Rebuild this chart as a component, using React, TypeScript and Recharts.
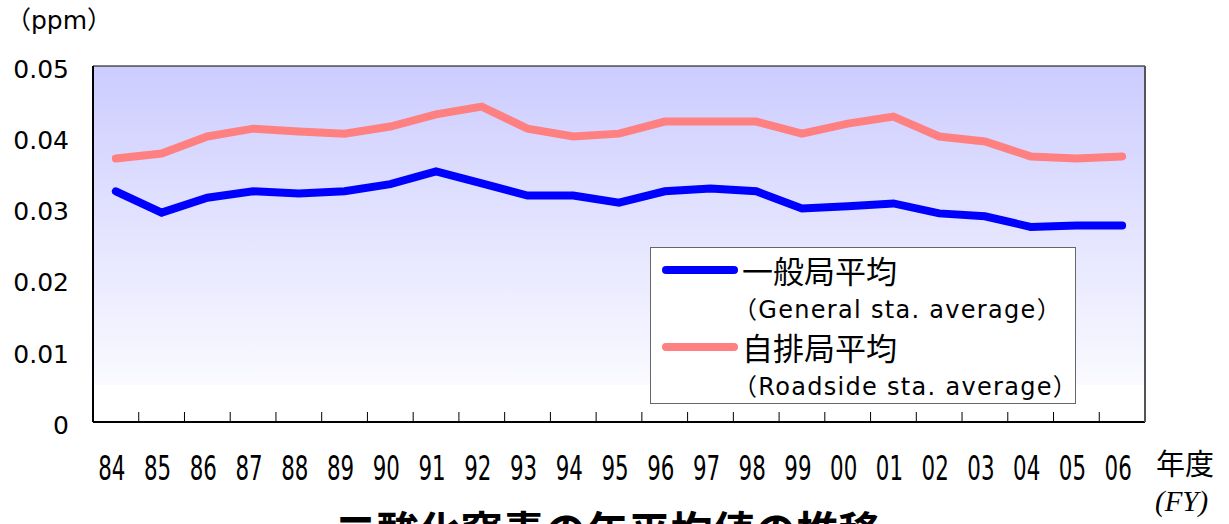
import { LineChart, Line, XAxis, YAxis, CartesianGrid } from 'recharts';

const years = ['84', '85', '86', '87', '88', '89', '90', '91', '92', '93', '94', '95', '96', '97', '98', '99', '00', '01', '02', '03', '04', '05', '06'];
const general = [0.0324, 0.0294, 0.0315, 0.0324, 0.0321, 0.0324, 0.0334, 0.0352, 0.0335, 0.0318, 0.0318, 0.0308, 0.0324, 0.0328, 0.0324, 0.03, 0.0303, 0.0307, 0.0293, 0.0289, 0.0274, 0.0276, 0.0276];
const roadside = [0.037, 0.0377, 0.0401, 0.0412, 0.0408, 0.0405, 0.0415, 0.0432, 0.0443, 0.0412, 0.0401, 0.0405, 0.0422, 0.0422, 0.0422, 0.0405, 0.0419, 0.0429, 0.0401, 0.0394, 0.0373, 0.037, 0.0373];
const yTicks = [0, 0.01, 0.02, 0.03, 0.04, 0.05];

const seriesKeys = ['general', 'roadside'];
const seriesNames = ['一般局平均', '自排局平均'];
const seriesSubs = ['（General sta. average）', '（Roadside sta. average）'];
const seriesColors = ['#0000ff', '#ff8080'];

const data = years.map((year, i) => ({ year, general: general[i], roadside: roadside[i] }));

const W = 1229;
const H = 524;
const PLOT_LEFT = 93;
const PLOT_RIGHT = 1145;
const PLOT_TOP = 66;
const PLOT_BOTTOM = 422;
const BAND = (PLOT_RIGHT - PLOT_LEFT) / years.length;

const JP = '"Noto Sans CJK JP", "Noto Sans", sans-serif';
const LATIN = '"DejaVu Sans", "Noto Sans CJK JP", sans-serif';

const XTick = ({ x, payload }: any) => {
    const idx = years.indexOf(payload.value);
    return (
        <g>
            {idx < years.length - 1 && (
                <line x1={x + BAND / 2} x2={x + BAND / 2} y1={PLOT_BOTTOM - 10} y2={PLOT_BOTTOM} stroke="#000" strokeWidth={1} />
            )}
            <text
                transform={`translate(${x - 4},${PLOT_BOTTOM + 58}) scale(0.72,1)`}
                x={0}
                y={0}
                textAnchor="middle"
                fontSize={33}
                fontFamily='"DejaVu Sans Condensed", "DejaVu Sans", sans-serif'
                fill="#000"
            >
                {payload.value}
            </text>
        </g>
    );
};

export default function App() {
    return (
        <div style={{ position: 'absolute', left: 0, top: 0, width: W, height: H, overflow: 'hidden', background: '#fff', fontFamily: JP }}>
            <LineChart width={W} height={H} data={data} margin={{ top: PLOT_TOP, right: 0, bottom: 0, left: 0 }}>
                <defs>
                    <linearGradient id="bg" x1="0" y1="0" x2="0" y2="1">
                        <stop offset="0" stopColor="#ccccff" />
                        <stop offset="0.896" stopColor="#fafaff" />
                        <stop offset="0.896" stopColor="#ffffff" />
                        <stop offset="1" stopColor="#ffffff" />
                    </linearGradient>
                </defs>
                <CartesianGrid vertical={false} stroke="#000" strokeWidth={1} fill="url(#bg)" fillOpacity={1} />
                <XAxis
                    dataKey="year"
                    scale="band"
                    interval={0}
                    height={H - PLOT_BOTTOM}
                    tickLine={false}
                    tickSize={0}
                    axisLine={{ stroke: '#000', strokeWidth: 2 }}
                    tick={<XTick />}
                />
                <YAxis
                    yAxisId="left"
                    width={PLOT_LEFT}
                    domain={[0, 0.05]}
                    ticks={yTicks}
                    tickLine={false}
                    tickSize={0}
                    tickMargin={24}
                    axisLine={{ stroke: '#000', strokeWidth: 2 }}
                    tickFormatter={(v: number) => (v === 0 ? '0' : v.toFixed(2))}
                    tick={{ fontSize: 25, fill: '#000', fontFamily: LATIN, dy: 3 }}
                />
                <YAxis
                    yAxisId="right"
                    orientation="right"
                    width={W - PLOT_RIGHT}
                    domain={[0, 0.05]}
                    tick={false}
                    tickLine={false}
                    axisLine={{ stroke: '#555', strokeWidth: 2 }}
                />
                {seriesKeys.map((k, i) => (
                    <Line
                        key={k}
                        yAxisId="left"
                        type="linear"
                        dataKey={k}
                        stroke={seriesColors[i]}
                        strokeWidth={8}
                        strokeLinecap="round"
                        dot={false}
                        activeDot={false}
                        isAnimationActive={false}
                    />
                ))}
            </LineChart>

            <div style={{ position: 'absolute', left: 6, top: 4, fontSize: 25, lineHeight: '34px', color: '#000', fontFamily: LATIN }}>（ppm）</div>

            <div
                style={{
                    position: 'absolute',
                    left: 650,
                    top: 247,
                    width: 426,
                    height: 157,
                    boxSizing: 'border-box',
                    background: '#fff',
                    border: '1.5px solid #666',
                }}
            >
                {seriesKeys.map((k, i) => (
                    <div key={k} style={{ position: 'absolute', left: 0, top: i === 0 ? 4 : 81, width: '100%' }}>
                        <div
                            style={{
                                position: 'absolute',
                                left: 11,
                                top: 14,
                                width: 76,
                                height: 8,
                                borderRadius: 4,
                                background: seriesColors[i],
                            }}
                        />
                        <div style={{ position: 'absolute', left: 91, top: -1, fontSize: 31, lineHeight: '38px', whiteSpace: 'nowrap' }}>
                            {seriesNames[i]}
                        </div>
                        <div
                            style={{
                                position: 'absolute',
                                left: 82,
                                top: 40,
                                fontSize: 24,
                                lineHeight: '36px',
                                letterSpacing: 1.3,
                                whiteSpace: 'nowrap',
                                fontFamily: LATIN,
                            }}
                        >
                            {seriesSubs[i]}
                        </div>
                    </div>
                ))}
            </div>

            <div style={{ position: 'absolute', left: 1156, top: 444, fontSize: 29, lineHeight: '36px' }}>年度</div>
            <div
                style={{
                    position: 'absolute',
                    left: 1155,
                    top: 484,
                    fontSize: 29,
                    lineHeight: '34px',
                    fontStyle: 'italic',
                    fontFamily: '"Liberation Serif", serif',
                }}
            >
                (FY)
            </div>
            <div
                style={{
                    position: 'absolute',
                    left: 0,
                    width: 1215,
                    top: 504,
                    textAlign: 'center',
                    fontSize: 42,
                    lineHeight: '50px',
                    fontWeight: 'bold',
                    whiteSpace: 'nowrap',
                }}
            >
                二酸化窒素の年平均値の推移
            </div>
        </div>
    );
}
